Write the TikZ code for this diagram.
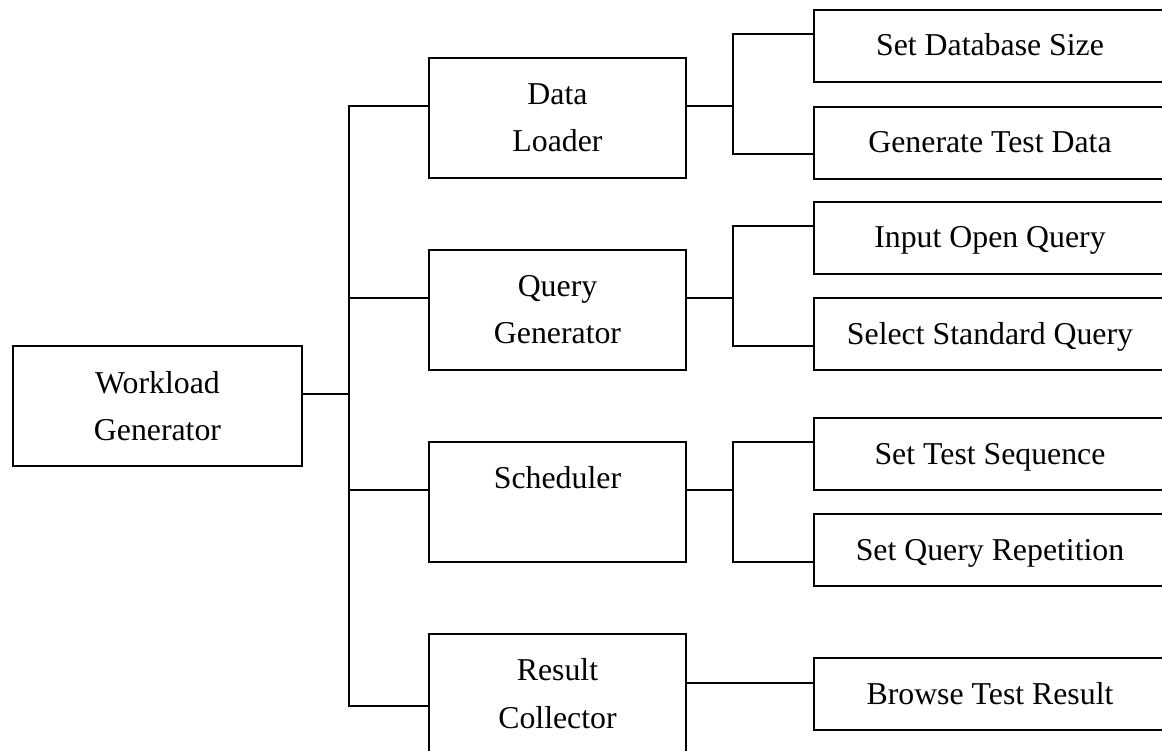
\documentclass[tikz,border=0pt]{standalone}
\usepackage{fontspec}
\setmainfont{Liberation Serif}
\begin{document}
\begin{tikzpicture}[x=1pt,y=-1pt,
  box/.style={draw, line width=2pt, inner sep=0pt, outer sep=0pt, anchor=north west},
  lbox/.style={box, minimum width=257pt, minimum height=120pt},
  rbox/.style={box, minimum width=352pt, minimum height=72pt},
  txt/.style={anchor=base, inner sep=0pt, font=\fontsize{31.8}{38}\selectfont},
  link/.style={line width=2pt, line join=miter}]
\useasboundingbox (0,0) rectangle (1162,751);
\clip (0,0) rectangle (1162,751);
% boxes
\node[box, minimum width=289pt, minimum height=120pt] (wg) at (13,346) {};
\node[lbox] (dl) at (429,58) {};
\node[lbox] (qg) at (429,250) {};
\node[lbox] (sc) at (429,442) {};
\node[lbox] (rc) at (429,634) {};
\node[rbox] (sds) at (814,10) {};
\node[rbox] (gtd) at (814,107) {};
\node[rbox] (ioq) at (814,202) {};
\node[rbox] (ssq) at (814,298) {};
\node[rbox] (sts) at (814,418) {};
\node[rbox] (sqr) at (814,514) {};
\node[rbox] (btr) at (814,658) {};
% texts
\node[txt] (wg1) at (157.5,393) {Workload};
\node[txt] (wg2) at (157.5,440) {Generator};
\node[txt] (dl1) at (557.5,104.5) {Data};
\node[txt] (dl2) at (557.5,152) {Loader};
\node[txt] (qg1) at (557.5,296.5) {Query};
\node[txt] (qg2) at (557.5,344) {Generator};
\node[txt] (sc1) at (557.5,488.5) {Scheduler};
\node[txt] (rc1) at (557.5,680.5) {Result};
\node[txt] (rc2) at (557.5,728) {Collector};
\node[txt] (sdst) at (990,56) {Set Database Size};
\node[txt] (gtdt) at (990,152.5) {Generate Test Data};
\node[txt] (ioqt) at (990,248) {Input Open Query};
\node[txt] (ssqt) at (990,344.5) {Select Standard Query};
\node[txt] (stst) at (990,464) {Set Test Sequence};
\node[txt] (sqrt) at (990,560) {Set Query Repetition};
\node[txt] (btrt) at (990,704) {Browse Test Result};
% junctions
\coordinate (b0) at (349,394);
\coordinate (dj) at (733,106);
\coordinate (qj) at (733,298);
\coordinate (sj) at (733,490);
% main bus
\draw[link] ([yshift=12pt]dl.west) -| (b0) |- ([yshift=-12pt]rc.west);
\draw[link] ([yshift=12pt]wg.east) -- (b0);
\draw[link] ([yshift=12pt]qg.west) -- ++(-80,0);
\draw[link] ([yshift=12pt]sc.west) -- ++(-80,0);
% sub buses
\draw[link] ([yshift=12pt]dl.east) -- (dj);
\draw[link] ([yshift=12pt]sds.west) -| (dj) |- ([yshift=-11pt]gtd.west);
\draw[link] ([yshift=12pt]qg.east) -- (qj);
\draw[link] ([yshift=12pt]ioq.west) -| (qj) |- ([yshift=-12pt]ssq.west);
\draw[link] ([yshift=12pt]sc.east) -- (sj);
\draw[link] ([yshift=12pt]sts.west) -| (sj) |- ([yshift=-12pt]sqr.west);
\draw[link] ([yshift=11pt]rc.east) -- ([yshift=11pt]btr.west);
\end{tikzpicture}
\end{document}
